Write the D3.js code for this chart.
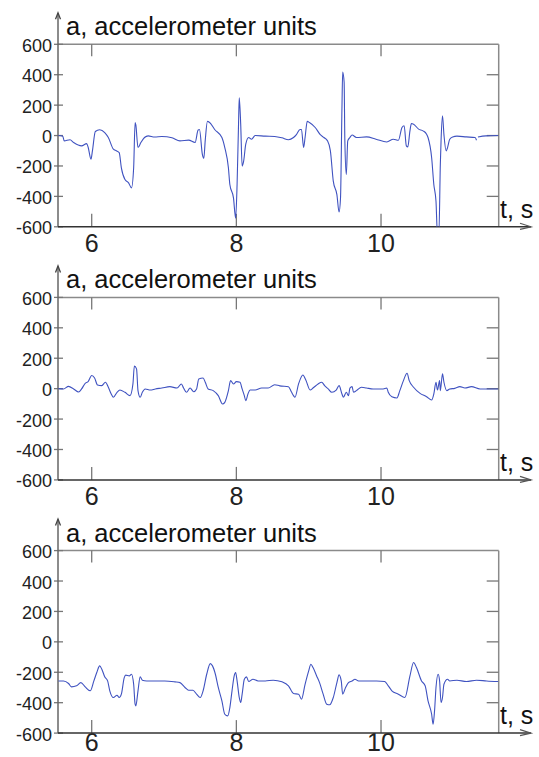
<!DOCTYPE html>
<html><head><meta charset="utf-8">
<script src="https://cdn.jsdelivr.net/npm/d3@7"></script>
<style>html,body{margin:0;padding:0;background:#fff;} svg{display:block;}</style>
</head><body><svg id="c" width="539" height="757"></svg>
<script>
const yTicks = [-600,-400,-200,0,200,400,600];
const xTicks = [6,8,10];
const yLabel = "a, accelerometer units";
const xLabel = "t, s";

// [time s, acceleration]
const series1 = [[5.54,0],[5.6,-5],[5.62,-35],[5.70,-28],[5.75,-46],[5.86,-68],[5.93,-53],[5.95,-75],[5.99,-156],[6.01,-101],[6.05,27],[6.11,38],[6.18,20],[6.23,-13],[6.30,-90],[6.34,-100],[6.38,-112],[6.41,-212],[6.46,-289],[6.51,-311],[6.55,-344],[6.58,-212],[6.60,86],[6.61,70],[6.64,-79],[6.68,-46],[6.73,-13],[6.78,-2],[6.87,-10],[6.97,-6],[7.11,-15],[7.22,-35],[7.34,-30],[7.43,-46],[7.47,35],[7.49,40],[7.53,-124],[7.55,-150],[7.57,-30],[7.60,93],[7.63,86],[7.70,40],[7.80,-13],[7.84,-79],[7.89,-212],[7.91,-322],[7.96,-410],[7.99,-543],[8.01,-322],[8.03,75],[8.04,248],[8.06,75],[8.08,-201],[8.10,-170],[8.13,-57],[8.17,-13],[8.21,-24],[8.26,0],[8.40,-4],[8.53,-6],[8.63,-15],[8.72,-28],[8.79,-13],[8.83,6],[8.88,40],[8.90,40],[8.93,-79],[8.95,-13],[8.98,93],[9.01,86],[9.09,53],[9.16,6],[9.21,-13],[9.26,-35],[9.30,-101],[9.34,-300],[9.39,-388],[9.42,-503],[9.44,-410],[9.46,185],[9.47,417],[9.49,350],[9.50,-35],[9.52,-256],[9.54,-35],[9.57,-13],[9.60,4],[9.66,-13],[9.80,-9],[9.93,-24],[10.08,-42],[10.17,-24],[10.24,-31],[10.29,53],[10.32,64],[10.35,-68],[10.37,-75],[10.40,31],[10.42,79],[10.45,75],[10.52,42],[10.58,31],[10.63,9],[10.65,-13],[10.70,-146],[10.73,-322],[10.76,-432],[10.78,-650],[10.80,-650],[10.82,-190],[10.83,-35],[10.85,130],[10.87,6],[10.90,-101],[10.92,-79],[10.95,-24],[10.99,-9],[11.05,-4],[11.18,-9],[11.30,-13],[11.32,-31],[11.33,null],[11.34,-9],[11.45,-2],[11.62,0]];

const series2 = [[5.54,0],[5.61,-2],[5.68,15],[5.75,-2],[5.82,-22],[5.86,-2],[5.91,35],[5.95,46],[6.00,86],[6.04,70],[6.08,24],[6.14,20],[6.19,42],[6.23,9],[6.27,-35],[6.30,-57],[6.35,-24],[6.39,-9],[6.46,-24],[6.53,-46],[6.57,31],[6.59,149],[6.62,130],[6.64,-13],[6.67,-57],[6.70,-24],[6.74,-2],[6.81,-9],[6.88,-2],[6.97,4],[7.08,13],[7.18,4],[7.24,31],[7.27,4],[7.31,-24],[7.36,4],[7.41,-20],[7.45,-2],[7.48,64],[7.54,70],[7.57,42],[7.61,-2],[7.68,-13],[7.75,-46],[7.81,-101],[7.84,-90],[7.89,-13],[7.92,53],[7.96,31],[8.00,46],[8.05,42],[8.08,-2],[8.11,-46],[8.13,-79],[8.16,-35],[8.19,-9],[8.26,-9],[8.35,4],[8.44,4],[8.53,26],[8.60,18],[8.72,13],[8.76,-20],[8.79,-46],[8.81,-57],[8.86,31],[8.92,90],[8.96,57],[9.02,-9],[9.06,4],[9.13,31],[9.18,42],[9.22,20],[9.27,-2],[9.32,-24],[9.38,-9],[9.42,20],[9.46,-35],[9.48,-57],[9.52,-24],[9.55,-46],[9.57,4],[9.60,13],[9.62,-24],[9.66,-13],[9.73,9],[9.80,4],[9.89,-2],[10.03,-2],[10.08,4],[10.10,-24],[10.15,-53],[10.22,-61],[10.26,-13],[10.31,53],[10.36,101],[10.39,53],[10.45,9],[10.54,-31],[10.63,-53],[10.70,-75],[10.73,-35],[10.76,42],[10.78,-9],[10.81,53],[10.82,-13],[10.85,97],[10.87,42],[10.91,-13],[10.95,-2],[11.02,2],[11.09,13],[11.16,4],[11.25,13],[11.37,-2],[11.51,-2],[11.62,-2]];

const series3 = [[5.54,-257],[5.61,-257],[5.68,-274],[5.72,-296],[5.79,-289],[5.85,-268],[5.91,-296],[5.98,-322],[6.03,-257],[6.07,-202],[6.11,-158],[6.14,-180],[6.18,-230],[6.22,-257],[6.25,-322],[6.30,-366],[6.35,-351],[6.38,-366],[6.41,-344],[6.45,-235],[6.47,-219],[6.52,-224],[6.55,-213],[6.58,-279],[6.60,-410],[6.61,-421],[6.64,-322],[6.67,-230],[6.70,-252],[6.76,-257],[6.88,-257],[7.01,-257],[7.15,-263],[7.22,-268],[7.29,-300],[7.34,-318],[7.40,-318],[7.45,-344],[7.50,-366],[7.54,-322],[7.59,-213],[7.64,-143],[7.67,-158],[7.71,-213],[7.75,-300],[7.80,-388],[7.84,-476],[7.88,-487],[7.91,-432],[7.94,-322],[7.97,-224],[7.99,-202],[8.01,-257],[8.04,-366],[8.06,-399],[8.08,-344],[8.11,-246],[8.14,-230],[8.17,-261],[8.23,-246],[8.30,-257],[8.40,-257],[8.51,-252],[8.63,-263],[8.72,-289],[8.79,-340],[8.86,-344],[8.90,-377],[8.95,-279],[9.00,-191],[9.03,-147],[9.06,-169],[9.11,-224],[9.15,-268],[9.20,-344],[9.25,-410],[9.29,-414],[9.34,-366],[9.39,-268],[9.42,-217],[9.45,-257],[9.47,-344],[9.51,-300],[9.55,-268],[9.60,-257],[9.64,-246],[9.69,-257],[9.80,-257],[9.94,-257],[10.05,-261],[10.10,-289],[10.15,-322],[10.24,-344],[10.33,-366],[10.40,-224],[10.45,-136],[10.49,-169],[10.56,-257],[10.61,-289],[10.65,-388],[10.70,-476],[10.72,-542],[10.74,-454],[10.76,-300],[10.79,-213],[10.81,-257],[10.83,-399],[10.85,-366],[10.87,-279],[10.92,-246],[10.95,-257],[11.05,-252],[11.18,-261],[11.32,-252],[11.46,-257],[11.62,-261]];

const panels = [series1, series2, series3];

const svg = d3.select("#c");
const L = 58, R = 498.7, H = 182.5;
const tops = [44.3, 297.4, 550.6];
const xLabelOffset = [25, 25, 18];
const x = d3.scaleLinear().domain([5.534, 11.627]).range([L, R]);
const FONT = "'Liberation Sans', Arial, sans-serif";

panels.forEach((data, i) => {
  const top = tops[i], bottom = top + H;
  const y = d3.scaleLinear().domain([-600, 600]).range([bottom, top]);
  const g = svg.append("g");

  const cid = "clip" + i;
  svg.append("clipPath").attr("id", cid).append("rect")
    .attr("x", L).attr("y", top).attr("width", R - L).attr("height", H);

  g.append("line").attr("x1", L).attr("x2", R).attr("y1", top).attr("y2", top)
    .attr("stroke", "#8a8a8a").attr("stroke-width", 1.5);
  g.append("line").attr("x1", R).attr("x2", R).attr("y1", top).attr("y2", bottom)
    .attr("stroke", "#8a8a8a").attr("stroke-width", 1.5);

  xTicks.forEach(t => {
    g.append("line").attr("x1", x(t)).attr("x2", x(t)).attr("y1", top).attr("y2", top + 12)
      .attr("stroke", "#777").attr("stroke-width", 1.3);
    g.append("line").attr("x1", x(t)).attr("x2", x(t)).attr("y1", bottom).attr("y2", bottom - 13)
      .attr("stroke", "#777").attr("stroke-width", 1.3);
    g.append("text").attr("x", x(t)).attr("y", bottom + xLabelOffset[i]).attr("text-anchor", "middle")
      .attr("font-family", FONT).attr("font-size", 25).attr("fill", "#222").text(t);
  });

  yTicks.forEach(v => {
    g.append("line").attr("x1", L - 4).attr("x2", L + 5).attr("y1", y(v)).attr("y2", y(v))
      .attr("stroke", "#777").attr("stroke-width", 1.3);
    if (v > -600 && v < 600) {
      g.append("line").attr("x1", R - 12).attr("x2", R).attr("y1", y(v)).attr("y2", y(v))
        .attr("stroke", "#777").attr("stroke-width", 1.3);
    }
    g.append("text").attr("x", 52).attr("y", y(v) + 7.5).attr("text-anchor", "end")
      .attr("font-family", FONT).attr("font-size", 18).attr("fill", "#222").text(v);
  });

  g.append("line").attr("x1", L).attr("x2", L).attr("y1", bottom).attr("y2", top - 31)
    .attr("stroke", "#666").attr("stroke-width", 1.5);
  g.append("path").attr("d", `M${L-2.5},${top-25} L${L},${top-31.5} L${L+2.5},${top-25}`)
    .attr("fill", "none").attr("stroke", "#444").attr("stroke-width", 1.3);

  g.append("line").attr("x1", L).attr("x2", 531).attr("y1", bottom).attr("y2", bottom)
    .attr("stroke", "#333").attr("stroke-width", 1.5);
  g.append("path").attr("d", `M520,${bottom-3.5} L531,${bottom} L520,${bottom+2.5}`)
    .attr("fill", "none").attr("stroke", "#555").attr("stroke-width", 1.2);

  const line = d3.line().defined(d => d[1] !== null).curve(d3.curveMonotoneX)
    .x(d => x(d[0])).y(d => y(d[1]));
  g.append("path").datum(data).attr("clip-path", `url(#${cid})`)
    .attr("d", line).attr("fill", "none").attr("stroke", "#3f52c0").attr("stroke-width", 1.1)
    .attr("stroke-linejoin", "round");

  g.append("text").attr("x", 66).attr("y", top - 9)
    .attr("font-family", FONT).attr("font-size", 25.5).attr("fill", "#111").text(yLabel);
  g.append("text").attr("x", 500).attr("y", bottom - 9)
    .attr("font-family", FONT).attr("font-size", 25).attr("fill", "#111").text(xLabel);
});
</script></body></html>
